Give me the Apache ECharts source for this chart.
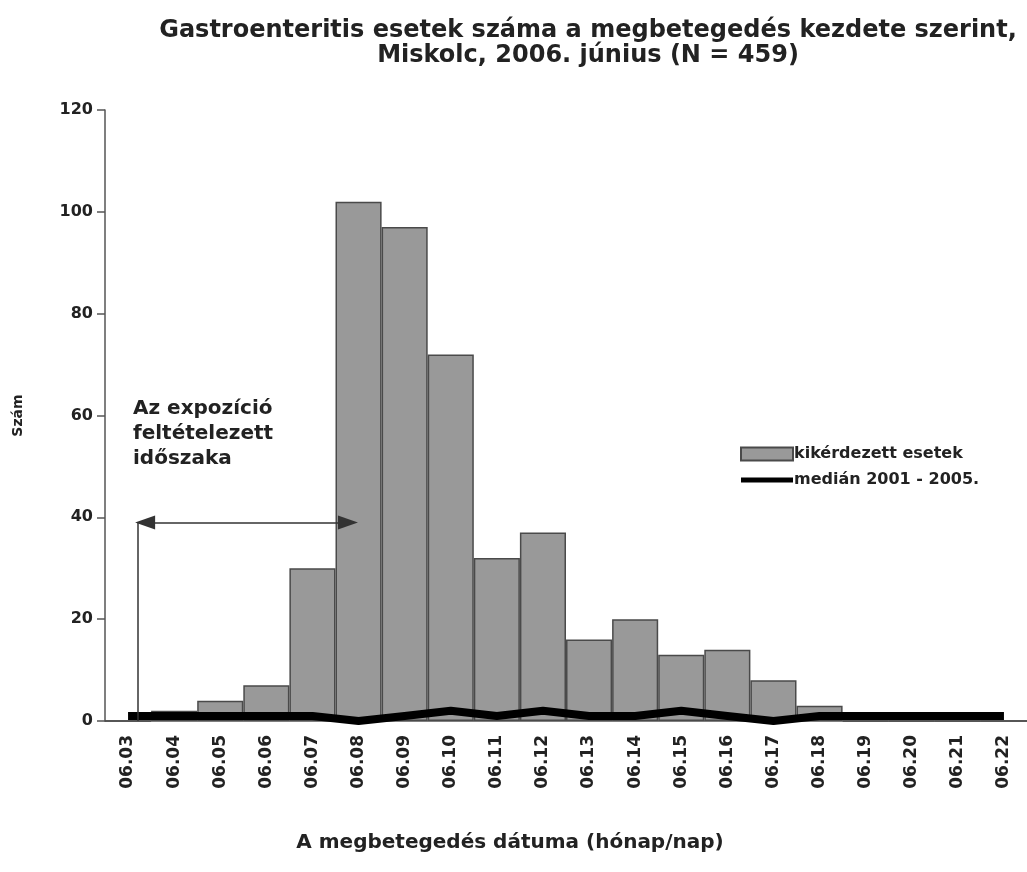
<!DOCTYPE html>
<html><head><meta charset="utf-8">
<script src="https://cdn.jsdelivr.net/npm/echarts@6/dist/echarts.min.js"></script>
<style>html,body{margin:0;padding:0;background:#fff}#c{width:1027px;height:872px}</style>
</head><body><div id="c"></div>
<script>
const categories = ['06.03','06.04','06.05','06.06','06.07','06.08','06.09','06.10','06.11','06.12','06.13','06.14','06.15','06.16','06.17','06.18','06.19','06.20','06.21','06.22'];
const cases = [0,2,4,7,30,102,97,72,32,37,16,20,13,14,8,3,0,0,0,0];
const median = [1,1,1,1,1,0,1,2,1,2,1,1,2,1,0,1,1,1,1,1];
const yTicks = [0,20,40,60,80,100,120];
const exposureStart = 0.37, exposureLine = 0.22, exposureEnd = 4.77, arrowLevel = 39;

const F = 'DejaVu Sans';
const chart = echarts.init(document.getElementById('c'));
chart.setOption({
  animation:false,
  title:{ text:'Gastroenteritis esetek száma a megbetegedés kezdete szerint,\nMiskolc, 2006. június (N = 459)',
    left:583, top:13, textAlign:'center',
    textStyle:{fontFamily:F, fontWeight:'bold', fontSize:24, color:'#222', lineHeight:25}},
  legend:{ orient:'vertical', left:735, top:441, itemWidth:52, itemHeight:13, itemGap:10,
    textStyle:{fontFamily:F, fontWeight:'bold', fontSize:16, color:'#222', padding:[0,0,0,-4]},
    data:[{name:'kikérdezett esetek', icon:'rect'},
          {name:'medián 2001 - 2005.', icon:'path://M0,0M0,4H52V9H0ZM52,13', itemStyle:{color:'#000', borderWidth:0}}]},
  grid:{ left:105, right:0, top:110, bottom:151, outerBoundsMode:'none', containLabel:false },
  xAxis:[{
    type:'category', data:categories,
    name:'A megbetegedés dátuma (hónap/nap)', nameLocation:'middle', nameGap:112,
    nameTextStyle:{fontFamily:F, fontWeight:'bold', fontSize:20, color:'#222', padding:[0,112,0,0]},
    axisLine:{lineStyle:{color:'#555', width:1.5}},
    axisTick:{length:8, lineStyle:{color:'#555', width:1.5}},
    axisLabel:{rotate:90, margin:14, fontFamily:F, fontWeight:'bold', fontSize:17, color:'#222'}
  },{
    type:'value', min:-0.5, max:19.5, show:false
  }],
  yAxis:{ type:'value', min:0, max:120, interval:20,
    name:'Szám', nameLocation:'middle', nameGap:80, nameRotate:90,
    nameTextStyle:{fontFamily:F, fontWeight:'bold', fontSize:14, color:'#222'},
    axisLine:{show:true, onZero:false, lineStyle:{color:'#555', width:1.5}},
    axisTick:{show:true, inside:false, length:8, lineStyle:{color:'#555', width:1.5}},
    axisLabel:{margin:12, fontFamily:F, fontWeight:'bold', fontSize:16, color:'#222',
      formatter: v => yTicks.includes(v) ? String(v) : ''},
    splitLine:{show:false}
  },
  graphic:[{ type:'text', left:133, top:396,
    style:{ text:'Az expozíció\nfeltételezett\nidőszaka', fontFamily:F, fontWeight:'bold', fontSize:20,
      lineHeight:25, fill:'#222'} }],
  series:[{
    name:'kikérdezett esetek', type:'bar', data:cases, barCategoryGap:'0%',
    itemStyle:{color:'#999999', borderColor:'#4a4a4a', borderWidth:1.5}, z:2
  },{
    name:'medián 2001 - 2005.', type:'line', data:median, symbol:'none',
    lineStyle:{color:'#000', width:8}, itemStyle:{color:'#000'}, z:3
  },{
    name:'annot', type:'line', xAxisIndex:1, data:[], symbol:'none',
    markLine:{ silent:true, symbol:['triangle','triangle'], symbolSize:[14,20],
      label:{show:false},
      itemStyle:{color:'#000'},
      lineStyle:{color:'#333', width:1.5, type:'solid'},
      data:[
        [{coord:[exposureStart, arrowLevel]},{coord:[exposureEnd, arrowLevel]}],
        [{coord:[exposureLine, 0], symbol:'none'},{coord:[exposureLine, arrowLevel], symbol:'none'}]
      ]}
  }]
});
</script></body></html>
